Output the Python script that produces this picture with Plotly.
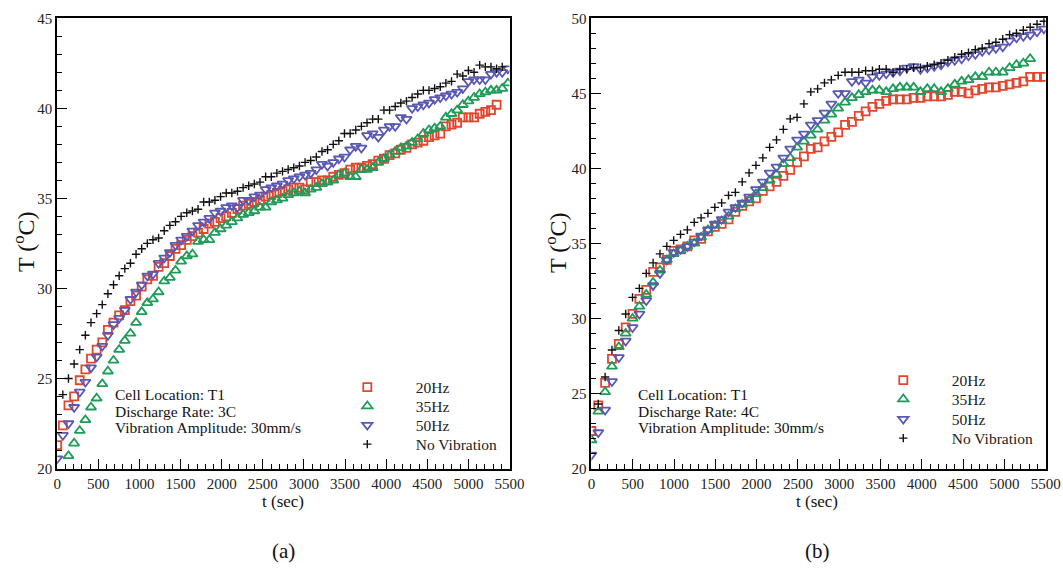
import plotly.graph_objects as go

W, H = 1063, 567

# sampling times (sec)
t_a = [0, 68.5, 137, 205.5, 274, 342.5, 411, 479.5, 548, 616.5, 685, 753.5, 822, 890.5, 959,
       1027.5, 1096, 1164.5, 1233, 1301.5, 1370, 1438.5, 1507, 1575.5, 1644, 1712.5, 1781,
       1849.5, 1918, 1986.5, 2055, 2123.5, 2192, 2260.5, 2329, 2397.5, 2466, 2534.5, 2603,
       2671.5, 2740, 2808.5, 2877, 2945.5, 3014, 3082.5, 3151, 3219.5, 3288, 3356.5, 3425,
       3493.5, 3562, 3630.5, 3699, 3767.5, 3836, 3904.5, 3973, 4041.5, 4110, 4178.5, 4247,
       4315.5, 4384, 4452.5, 4521, 4589.5, 4658, 4726.5, 4795, 4863.5, 4932, 5000.5, 5069,
       5137.5, 5206, 5274.5, 5343, 5411.5, 5480]
t_b = [0, 83, 166, 249, 332, 415, 498, 581, 664, 747, 830, 913, 996, 1079, 1162, 1245, 1328,
       1411, 1494, 1577, 1660, 1743, 1826, 1909, 1992, 2075, 2158, 2241, 2324, 2407, 2490,
       2573, 2656, 2739, 2822, 2905, 2988, 3071, 3154, 3237, 3320, 3403, 3486, 3569, 3652,
       3735, 3818, 3901, 3984, 4067, 4150, 4233, 4316, 4399, 4482, 4565, 4648, 4731, 4814,
       4897, 4980, 5063, 5146, 5229, 5312, 5395, 5478]

# (a) Discharge rate 3C
a_20 = [21.3, 22.4, 23.5, 24.0, 24.9, 25.5, 26.1, 26.6, 27.0, 27.7,
        28.1, 28.5, 28.8, 29.3, 29.6, 30.1, 30.5, 30.7, 31.2, 31.4,
        31.8, 32.2, 32.4, 32.7, 32.9, 33.1, 33.3, 33.6, 33.7, 33.9,
        34.0, 34.2, 34.4, 34.6, 34.7, 34.8, 34.9, 35.1, 35.2, 35.3,
        35.4, 35.5, 35.6, 35.6, 35.5, 35.9, 35.9, 36.0, 36.0, 36.2,
        36.3, 36.4, 36.6, 36.7, 36.7, 36.8, 36.9, 37.1, 37.2, 37.4,
        37.5, 37.7, 37.8, 38.0, 38.1, 38.2, 38.4, 38.5, 38.6, 39.0,
        39.1, 39.2, 39.5, 39.5, 39.5, 39.7, 39.8, 39.9, 40.2]
a_35 = [20.7, 21.4, 22.1, 22.7, 23.4, 23.9, 24.7, 25.4, 26.0, 26.6,
        27.1, 27.5, 28.1, 28.7, 29.2, 29.4, 29.8, 30.4, 30.6, 31.0,
        31.5, 31.8, 31.9, 32.6, 32.7, 32.7, 33.1, 33.3, 33.5, 33.7,
        33.9, 34.1, 34.2, 34.3, 34.5, 34.5, 34.8, 34.9, 35.0, 35.2,
        35.3, 35.4, 35.3, 35.5, 35.6, 35.8, 35.9, 36.0, 36.3, 36.4,
        36.2, 36.2, 36.6, 36.6, 36.7, 37.0, 37.2, 37.4, 37.6, 37.8,
        37.9, 38.1, 38.3, 38.6, 38.8, 38.9, 39.0, 39.5, 39.7, 39.9,
        40.2, 40.4, 40.6, 40.8, 40.9, 41.0, 41.0, 41.1, 41.4]
a_50 = [20.55, 21.85, 22.5, 23.4, 24.25, 24.8, 25.6, 26.2, 26.8, 27.4,
        28.0, 28.35, 28.8, 29.4, 29.8, 30.2, 30.7, 30.8, 31.4, 31.7,
        32.0, 32.4, 32.7, 32.9, 33.2, 33.5, 33.7, 33.9, 34.2, 34.3,
        34.5, 34.6, 34.5, 34.9, 34.9, 35.1, 35.2, 35.5, 35.6, 35.7,
        35.8, 36.0, 36.1, 36.2, 36.3, 36.4, 36.6, 36.9, 36.8, 37.0,
        37.2, 37.3, 37.7, 37.9, 37.8, 38.5, 38.6, 38.4, 38.8, 39.0,
        39.0, 39.5, 39.4, 40.0, 40.1, 40.2, 40.3, 40.5, 40.6, 40.7,
        40.8, 40.9, 41.1, 41.5, 41.6, 41.6, 41.6, 41.9, 42.0, 42.0,
        42.2]
a_nv = [24.1, 25.0, 25.8, 26.6, 27.4, 28.1, 28.6, 29.1, 29.7, 30.2,
        30.7, 31.1, 31.4, 31.9, 32.2, 32.5, 32.7, 32.8, 33.2, 33.5,
        33.7, 34.0, 34.2, 34.3, 34.4, 34.8, 34.8, 34.9, 35.1, 35.3,
        35.3, 35.4, 35.6, 35.7, 35.8, 35.9, 36.2, 36.2, 36.4, 36.5,
        36.6, 36.7, 36.8, 37.0, 37.1, 37.3, 37.6, 37.7, 38.0, 38.2,
        38.6, 38.6, 38.8, 39.0, 39.2, 39.4, 39.4, 39.9, 39.9, 40.1,
        40.3, 40.4, 40.6, 40.8, 41.0, 41.0, 41.1, 41.2, 41.4, 41.5,
        41.9, 41.8, 42.1, 42.0, 42.4, 42.3, 42.3, 42.2, 42.3]

# (b) Discharge rate 4C
b_20 = [22.5, 24.2, 25.7, 27.3, 28.3, 29.4, 30.3, 31.3, 31.9, 33.1,
        33.4, 33.9, 34.5, 34.6, 34.8, 35.2, 35.3, 35.8, 36.1, 36.3,
        36.6, 37.1, 37.5, 37.8, 38.0, 38.5, 38.8, 39.1, 39.5, 39.9,
        40.4, 40.8, 41.3, 41.4, 41.8, 42.1, 42.4, 42.9, 43.1, 43.5,
        43.8, 44.1, 44.3, 44.5, 44.6, 44.6, 44.6, 44.7, 44.7, 44.8,
        44.8, 44.8, 44.9, 45.1, 45.1, 45.0, 45.2, 45.3, 45.4, 45.4,
        45.5, 45.6, 45.7, 45.8, 46.1, 46.1, 46.1]
b_35 = [21.9, 23.8, 25.1, 26.8, 28.1, 29.0, 30.0, 30.8, 31.6, 32.4,
        33.2, 33.9, 34.3, 34.5, 34.8, 35.0, 35.4, 35.9, 36.2, 36.5,
        36.8, 37.3, 37.6, 37.9, 38.3, 38.7, 39.2, 39.6, 40.3, 40.7,
        41.4, 41.8, 42.2, 42.6, 43.2, 43.6, 44.0, 44.4, 44.7, 44.9,
        45.1, 45.2, 45.2, 45.1, 45.3, 45.4, 45.4, 45.4, 45.1, 45.3,
        45.3, 45.1, 45.3, 45.6, 45.8, 45.9, 46.1, 46.1, 46.4, 46.4,
        46.4, 46.7, 46.9, 47.0, 47.3]
b_50 = [20.9, 22.4, 23.9, 25.8, 27.4, 28.5, 29.4, 30.3, 31.2, 32.2,
        33.0, 33.9, 34.4, 34.6, 34.8, 35.1, 35.5, 35.9, 36.3, 36.6,
        37.1, 37.4, 37.7, 38.1, 38.6, 39.1, 39.7, 40.1, 40.7, 41.3,
        41.9, 42.3, 42.9, 43.2, 43.7, 44.3, 45.0, 45.0, 45.8, 45.9,
        45.7, 46.1, 46.2, 46.3, 46.4, 46.5, 46.7, 46.8, 46.6, 46.7,
        46.8, 46.9, 47.1, 47.2, 47.3, 47.5, 47.6, 47.8, 47.9, 48.0,
        48.1, 48.5, 48.7, 48.8, 48.9, 49.1, 49.3]
b_nv = [24.3, 26.1, 27.9, 29.2, 30.3, 31.4, 32.0, 33.0, 33.7, 34.3,
        34.8, 35.2, 35.6, 35.9, 36.4, 36.7, 37.0, 37.4, 37.7, 38.2,
        38.4, 39.1, 39.7, 40.2, 40.7, 41.4, 41.9, 42.6, 43.3, 43.4,
        44.3, 45.1, 45.3, 45.7, 45.9, 46.2, 46.4, 46.4, 46.4, 46.5,
        46.5, 46.6, 46.6, 46.4, 46.6, 46.6, 46.7, 46.7, 46.8, 46.9,
        47.0, 47.2, 47.4, 47.6, 47.7, 47.9, 48.0, 48.3, 48.4, 48.6,
        48.9, 49.0, 49.2, 49.4, 49.6, 49.8]

series_names = ["20Hz", "35Hz", "50Hz", "No Vibration"]
x_ticks = [0, 500, 1000, 1500, 2000, 2500, 3000, 3500, 4000, 4500, 5000, 5500]

FONT = "Liberation Serif"
RED, GREEN, BLUE, BLACK = "#E0472E", "#1E9C5A", "#5A58B4", "#111111"

styles = [
    dict(symbol="square-open", size=8, color=RED, line=dict(width=1.8, color=RED)),
    dict(symbol="triangle-up-open", size=9, color=GREEN, line=dict(width=1.8, color=GREEN)),
    dict(symbol="triangle-down-open", size=9, color=BLUE, line=dict(width=1.8, color=BLUE)),
    dict(symbol="cross-thin-open", size=6, color=BLACK, line=dict(width=1.4, color=BLACK)),
]

# picture pixel -> paper fraction
def px_x(p):
    return p / W

def px_y(p):
    return 1 - p / H

fig = go.Figure()

panels = [
    ("x", "y", 367.3, [384, 403, 422, 441],
     [(t_a[0:79], a_20), (t_a[2:81], a_35), (t_a[0:81], a_50), (t_a[1:80], a_nv)]),
    ("x2", "y2", 903.3, [377, 396, 416, 435],
     [(t_b[0:67], b_20), (t_b[0:65], b_35), (t_b[0:67], b_50), (t_b[1:67], b_nv)]),
]
ITEMW = 87
legends = {}
k = 0
for xa, ya, mx, rows, data in panels:
    for (tx, ty), name, st, ry in zip(data, series_names, styles, rows):
        k += 1
        lg = "legend" if k == 1 else f"legend{k}"
        fig.add_trace(go.Scatter(x=tx, y=ty, mode="markers", name=name, marker=st,
                                 xaxis=xa, yaxis=ya, legend=lg, showlegend=True))
        legends[lg] = dict(x=px_x(mx - 5 - ITEMW / 2), y=px_y(ry - 13.5),
                           xanchor="left", yanchor="top", bgcolor="rgba(0,0,0,0)",
                           itemwidth=ITEMW, tracegroupgap=0, visible=True,
                           font=dict(family=FONT, size=15.5, color="#222"))

y_bot, y_top = px_y(468.5), px_y(18.3)

axis_common = dict(showline=True, linecolor="black", linewidth=2, mirror=True,
                   ticks="inside", ticklen=10, tickwidth=1.2, tickcolor="black",
                   showgrid=False, zeroline=False,
                   tickfont=dict(family=FONT, size=15, color="#222"))
minor_x = dict(dtick=100, ticks="inside", ticklen=5, tickcolor="black", tickwidth=1)
minor_y = dict(dtick=1, ticks="inside", ticklen=5, tickcolor="black", tickwidth=1)

fig.update_layout(
    width=W, height=H, margin=dict(l=0, r=0, t=0, b=0, autoexpand=False),
    paper_bgcolor="white", plot_bgcolor="white", showlegend=True,
    xaxis=dict(domain=[px_x(57.2), px_x(509.5)], range=[0, 5500], tickvals=x_ticks,
               minor=minor_x, anchor="y", **axis_common),
    yaxis=dict(domain=[y_bot, y_top], range=[20, 45], dtick=5,
               minor=minor_y, anchor="x", **axis_common),
    xaxis2=dict(domain=[px_x(591.4), px_x(1045.7)], range=[0, 5500], tickvals=x_ticks,
                minor=minor_x, anchor="y2", **axis_common),
    yaxis2=dict(domain=[y_bot, y_top], range=[20, 50], dtick=5,
                minor=minor_y, anchor="x2", **axis_common),
    **legends,
)

annots = []
def add_text(text, x, y, size, xanchor="center", angle=0):
    annots.append(dict(text=text, x=px_x(x), y=px_y(y), xref="paper", yref="paper",
                       xanchor=xanchor, yanchor="middle", showarrow=False, textangle=angle,
                       borderpad=0, font=dict(family=FONT, size=size, color="#111")))

for x0, rate in [(114, "3C"), (637, "4C")]:
    add_text("Cell Location: T1", x0, 394, 15.5, "left")
    add_text(f"Discharge Rate: {rate}", x0, 411, 15.5, "left")
    add_text("Vibration Amplitude: 30mm/s", x0, 427.5, 15.5, "left")

add_text("T (<sup>o</sup>C)", 24, 242, 24, angle=-90)
add_text("T (<sup>o</sup>C)", 556, 243, 24, angle=-90)
add_text("t (sec)", 283, 501, 17)
add_text("t (sec)", 817, 501, 17)
add_text("(a)", 283, 551, 21)
add_text("(b)", 817, 551, 21)
fig.update_layout(annotations=annots)

fig.write_html("out.html")
